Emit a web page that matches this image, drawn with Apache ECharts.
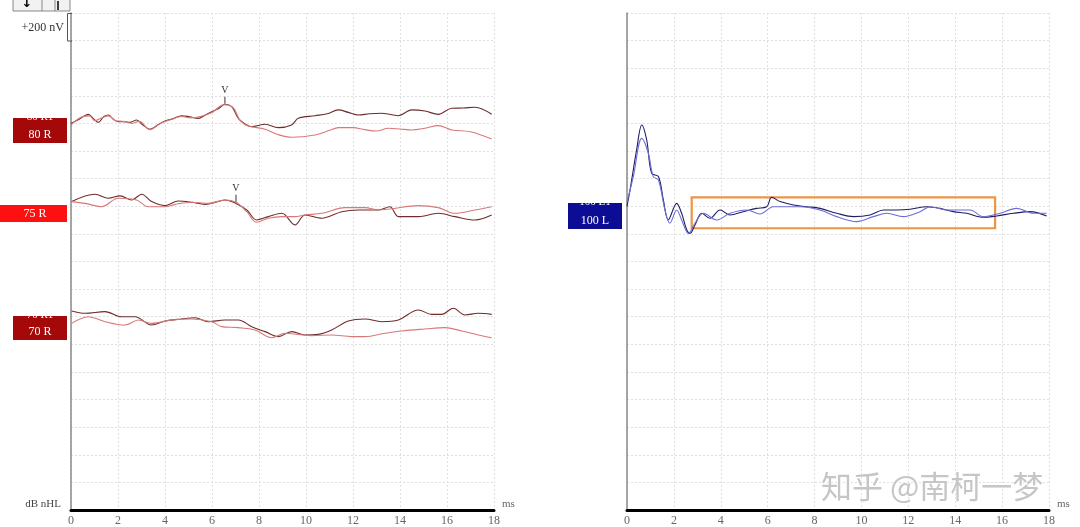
<!DOCTYPE html>
<html>
<head>
<meta charset="utf-8">
<script src="https://cdn.jsdelivr.net/npm/echarts@6/dist/echarts.min.js"></script>
<style>html,body{margin:0;padding:0;background:#fff}#c{width:1080px;height:527px}</style>
</head>
<body>
<div id="c"></div>
<script>
// x in ms, y in nV (absolute position on a 0..3600 nV scale, 200 nV per division)
const xTicks = [0, 2, 4, 6, 8, 10, 12, 14, 16, 18];

const r80a = [[0,2800],[0.35,2830],[0.74,2866],[0.95,2835],[1.16,2808],[1.4,2850],[1.59,2861],[1.8,2830],[2.01,2813],[2.3,2812],[2.51,2808],[2.79,2825],[3.05,2790],[3.36,2758],[3.7,2790],[4.0,2818],[4.35,2835],[4.71,2856],[5.05,2848],[5.42,2837],[5.7,2860],[5.99,2885],[6.3,2910],[6.55,2939],[6.84,2922],[7.12,2837],[7.48,2789],[7.69,2777],[8.26,2794],[8.82,2770],[9.39,2789],[9.67,2837],[10.38,2856],[10.9,2870],[11.38,2898],[11.8,2880],[12.23,2861],[12.7,2870],[13.22,2874],[13.6,2865],[13.93,2856],[14.5,2898],[15.06,2890],[15.63,2866],[16.2,2910],[16.7,2912],[17.19,2917],[17.9,2866]];
const r80b = [[0,2790],[0.5,2850],[0.8,2855],[1.0,2820],[1.3,2840],[1.6,2855],[1.9,2820],[2.2,2815],[2.6,2800],[2.9,2815],[3.36,2755],[3.8,2800],[4.2,2825],[4.7,2850],[5.1,2840],[5.5,2850],[6.0,2880],[6.5,2935],[6.9,2915],[7.2,2820],[7.5,2784],[8.26,2758],[8.8,2720],[9.39,2700],[10.38,2716],[11.0,2750],[11.38,2770],[12.0,2770],[12.5,2755],[13.0,2745],[13.5,2765],[14.0,2760],[14.5,2753],[15.06,2765],[15.63,2784],[16.2,2753],[17.0,2740],[17.9,2687]];

const r75a = [[0.03,2234],[1.02,2287],[1.59,2258],[2.09,2275],[2.58,2246],[3.01,2287],[3.43,2234],[4.0,2205],[4.57,2238],[5.14,2229],[5.7,2214],[6.27,2234],[6.55,2246],[7.02,2221],[7.48,2173],[7.9,2101],[8.4,2125],[8.97,2149],[9.53,2065],[9.96,2137],[10.67,2113],[11.52,2161],[12.23,2173],[13.08,2173],[13.57,2197],[13.93,2125],[14.78,2125],[15.63,2149],[16.34,2125],[17.19,2101],[17.9,2137]];
const r75b = [[0.03,2234],[0.6,2221],[1.3,2197],[2.01,2258],[2.79,2246],[3.29,2197],[4.0,2197],[4.43,2214],[5.14,2229],[5.84,2221],[6.55,2246],[7.02,2229],[7.48,2161],[7.9,2084],[8.4,2113],[8.97,2125],[9.53,2125],[9.96,2137],[10.67,2149],[11.66,2190],[12.51,2190],[13.08,2173],[13.57,2180],[14.78,2205],[15.63,2190],[16.34,2149],[17.19,2173],[17.9,2197]];

const r70a = [[0.03,1442],[0.6,1425],[1.45,1437],[2.16,1400],[2.72,1400],[3.43,1340],[4.0,1369],[4.71,1384],[5.28,1393],[5.84,1364],[6.55,1376],[7.12,1376],[7.69,1328],[8.26,1292],[8.82,1256],[9.39,1292],[9.96,1268],[10.52,1272],[11.09,1304],[11.8,1369],[12.51,1384],[13.22,1364],[13.93,1376],[14.78,1449],[15.35,1417],[15.77,1417],[16.27,1461],[16.77,1413],[17.33,1425],[17.9,1417]];
const r70b = [[0.03,1352],[0.74,1400],[1.45,1364],[2.3,1340],[2.87,1376],[3.43,1352],[4.28,1376],[5.14,1384],[5.99,1364],[6.41,1328],[7.12,1321],[7.83,1304],[8.54,1248],[9.11,1280],[9.67,1272],[10.24,1263],[11.09,1268],[11.94,1256],[12.51,1256],[13.36,1280],[14.07,1297],[15.06,1311],[15.91,1321],[16.62,1297],[17.33,1268],[17.9,1248]];

const l100a = [[0,2200],[0.13,2318],[0.41,2608],[0.63,2789],[0.84,2680],[1.05,2439],[1.34,2415],[1.55,2246],[1.76,2101],[2.12,2221],[2.33,2149],[2.55,2028],[2.69,2004],[2.9,2065],[3.19,2149],[3.54,2113],[3.97,2173],[4.39,2137],[4.96,2161],[5.53,2185],[5.96,2197],[6.17,2265],[6.53,2234],[7.1,2209],[7.67,2197],[8.23,2185],[8.95,2149],[9.66,2125],[10.37,2137],[10.94,2173],[11.5,2173],[12.07,2178],[12.79,2197],[13.35,2185],[13.92,2161],[14.49,2149],[15.2,2120],[15.77,2130],[16.48,2149],[17.19,2161],[17.9,2130]];
const l100b = [[0,2230],[0.27,2415],[0.63,2692],[0.91,2584],[1.12,2415],[1.34,2391],[1.62,2173],[1.83,2077],[2.12,2173],[2.33,2101],[2.62,2004],[2.9,2077],[3.26,2149],[3.83,2101],[4.39,2149],[5.11,2173],[5.67,2144],[6.24,2197],[6.81,2197],[7.38,2197],[8.23,2173],[8.95,2125],[9.8,2089],[10.51,2125],[11.08,2149],[11.79,2125],[12.5,2161],[12.93,2197],[13.64,2173],[14.63,2173],[15.2,2125],[15.91,2149],[16.62,2185],[17.33,2149],[17.9,2149]];

const vPeaks80 = [6.55, 2939];
const vPeaks75 = [7.02, 2229];
const boxRange = [[2.76, 2265], [15.7, 2041]];

const FONT = 'Liberation Serif';

function xAx(gi) {
  return {
    type: 'value', gridIndex: gi, min: 0, max: 18, interval: 2,
    name: 'ms', nameLocation: 'end', nameGap: 8,
    nameTextStyle: { fontFamily: FONT, fontSize: 11, color: '#666', verticalAlign: 'bottom', padding: [0,0,0,0] },
    axisLine: { lineStyle: { color: '#000', width: 3 } },
    axisTick: { show: false },
    axisLabel: { fontFamily: FONT, fontSize: 12, color: '#666', margin: 5 },
    splitLine: { show: true, lineStyle: { color: '#e0e0e0', type: [2, 2], width: 1 } }
  };
}
function yAx(gi) {
  return {
    type: 'value', gridIndex: gi, min: 0, max: 3600, interval: 200,
    axisLine: { show: true, onZero: false, lineStyle: { color: '#8a8a8a', width: 1.5 } },
    axisTick: { show: false }, axisLabel: { show: false },
    splitLine: { show: true, lineStyle: { color: '#e0e0e0', type: [2, 2], width: 1 } }
  };
}
function trace(data, color, gi, extra) {
  return Object.assign({
    type: 'line', xAxisIndex: gi, yAxisIndex: gi, data: data,
    showSymbol: false, smooth: 0.35, silent: true,
    lineStyle: { color: color, width: 1.1 }, itemStyle: { color: color }, z: 3
  }, extra || {});
}
function vMark(pt) {
  return {
    symbol: 'rect', symbolSize: [1, 7], symbolOffset: [0, -4],
    itemStyle: { color: '#333' },
    label: { show: true, formatter: 'V', position: 'top', distance: 1, fontFamily: FONT, fontSize: 10, color: '#333' },
    data: [{ coord: pt }]
  };
}

const darkRed = '#6e2c2c', pink = '#d97878';
const navy = '#1e1e66', blue = '#6c6cd6';

const chart = echarts.init(document.getElementById('c'), null, { renderer: 'canvas' });

function labelBox(x, y, w, h, fill, main, ghost) {
  const els = [
    { type: 'rect', shape: { x: x, y: y, width: w, height: h }, style: { fill: fill }, z: 10 }
  ];
  if (ghost) {
    els.push({ type: 'text', x: x + w / 2, y: y - 1, style: { text: ghost, fill: '#fff', font: '11px ' + FONT, textAlign: 'center', textVerticalAlign: 'middle' }, z: 11 });
    els.push({ type: 'rect', shape: { x: x, y: y - 10, width: w, height: 10 }, style: { fill: '#fff' }, z: 12 });
  }
  els.push({ type: 'text', x: x + w / 2, y: y + h - 8, style: { text: main, fill: '#fff', font: '12px ' + FONT, textAlign: 'center', textVerticalAlign: 'middle' }, z: 11 });
  return els;
}

const graphics = [].concat(
  [
    { type: 'rect', shape: { x: 13, y: -1, width: 57, height: 12 }, style: { fill: '#f2f2f2', stroke: '#888', lineWidth: 1 }, z: 10 },
    { type: 'line', shape: { x1: 42, y1: 0, x2: 42, y2: 11 }, style: { stroke: '#888' }, z: 11 },
    { type: 'line', shape: { x1: 55, y1: 0, x2: 55, y2: 11 }, style: { stroke: '#888' }, z: 11 },
    { type: 'text', x: 27, y: 4, style: { text: '↓', fill: '#000', font: 'bold 13px DejaVu Sans', textAlign: 'center', textVerticalAlign: 'middle' }, z: 11 },
    { type: 'line', shape: { x1: 58, y1: 1, x2: 58, y2: 10 }, style: { stroke: '#000', lineWidth: 1.5 }, z: 11 },
    { type: 'polyline', shape: { points: [[72, 13.5], [67.5, 13.5], [67.5, 41], [72, 41]] }, style: { stroke: '#555', fill: 'none', lineWidth: 1 }, z: 11 },
    { type: 'text', x: 64, y: 28, style: { text: '+200 nV', fill: '#333', font: '12px ' + FONT, textAlign: 'right', textVerticalAlign: 'middle' }, z: 11 },
    { type: 'text', x: 61, y: 504, style: { text: 'dB nHL', fill: '#444', font: '11px ' + FONT, textAlign: 'right', textVerticalAlign: 'middle' }, z: 11 },
    { type: 'text', x: 821, y: 486, style: { text: '知乎 @南柯一梦', fill: '#c6c6c6', font: '31px "Noto Sans CJK SC"', textAlign: 'left', textVerticalAlign: 'middle', stroke: '#ffffff', lineWidth: 1 }, z: 20 }
  ],
  labelBox(13, 118, 54, 25, '#a50808', '80 R', '80 R1'),
  [
    { type: 'rect', shape: { x: 0, y: 205, width: 67, height: 17 }, style: { fill: '#ff1010' }, z: 10 },
    { type: 'text', x: 35, y: 214, style: { text: '75 R', fill: '#fff', font: '12px ' + FONT, textAlign: 'center', textVerticalAlign: 'middle' }, z: 11 }
  ],
  labelBox(13, 316, 54, 24, '#a50808', '70 R', '70 R1'),
  labelBox(568, 203, 54, 26, '#0c0c94', '100 L', '100 L1')
);

chart.setOption({
  animation: false,
  backgroundColor: '#fff',
  grid: [
    { left: 71, right: 586, top: 13, bottom: 17 },
    { left: 627, right: 31, top: 13, bottom: 17 }
  ],
  xAxis: [xAx(0), xAx(1)],
  yAxis: [yAx(0), yAx(1)],
  series: [
    trace(r80a, darkRed, 0, { markPoint: vMark(vPeaks80) }),
    trace(r80b, pink, 0),
    trace(r75a, darkRed, 0, { markPoint: vMark(vPeaks75) }),
    trace(r75b, pink, 0),
    trace(r70a, darkRed, 0),
    trace(r70b, pink, 0),
    trace(l100a, navy, 1, {
      markArea: {
        silent: true,
        itemStyle: { color: 'rgba(0,0,0,0)', borderColor: '#ec9448', borderWidth: 2.2 },
        data: [[{ coord: boxRange[0] }, { coord: boxRange[1] }]]
      }
    }),
    trace(l100b, blue, 1)
  ],
  graphic: graphics
});
</script>
</body>
</html>
